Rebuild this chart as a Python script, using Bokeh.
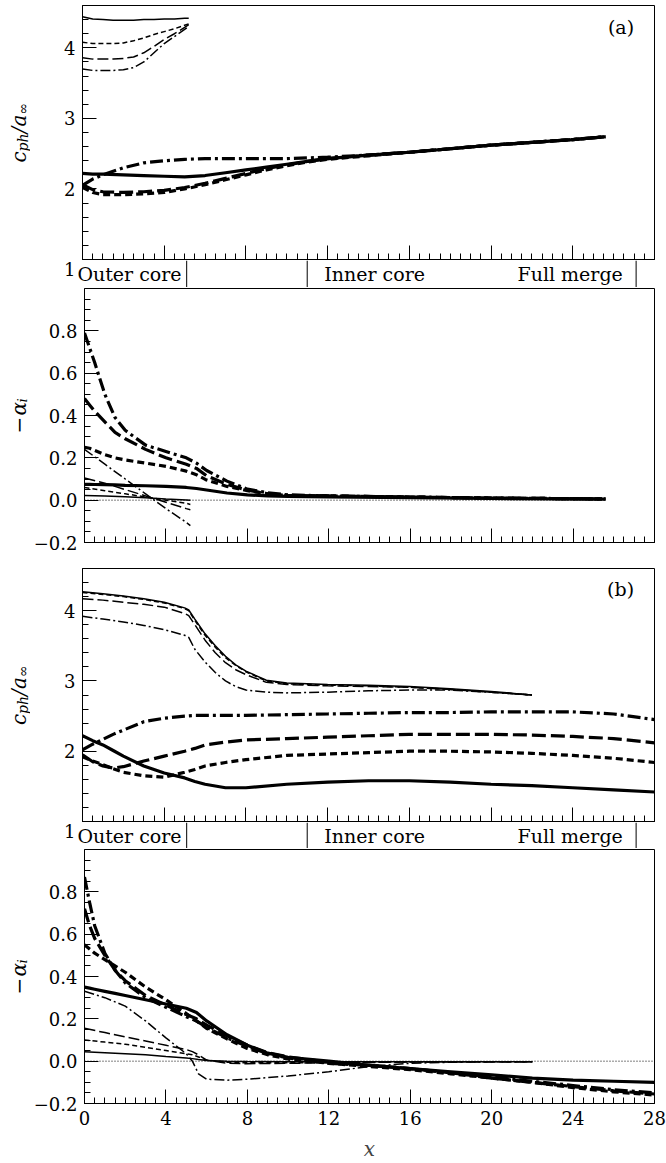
from math import pi

from bokeh.embed import file_html
from bokeh.layouts import column, row
from bokeh.models import CustomJSTickFormatter, FixedTicker, Label, Range1d
from bokeh.plotting import figure
from bokeh.resources import INLINE

SERIF = "DejaVu Serif"

# ---------------------------------------------------------------- data
# (a) phase speed, thin curves (outer-core mode, x <= 5.2)
a_cph_thin_x = [0, 0.5, 1, 1.5, 2, 2.5, 3, 3.5, 4, 4.5, 5, 5.2]
a_cph_thin_solid = [4.44, 4.41, 4.40, 4.39, 4.39, 4.39, 4.40, 4.40, 4.41, 4.41, 4.42, 4.42]
a_cph_thin_sdash = [4.08, 4.06, 4.06, 4.06, 4.07, 4.10, 4.14, 4.19, 4.23, 4.27, 4.32, 4.34]
a_cph_thin_ldash = [3.86, 3.84, 3.84, 3.84, 3.85, 3.87, 3.93, 4.02, 4.12, 4.20, 4.29, 4.33]
a_cph_thin_dashdot = [3.70, 3.68, 3.68, 3.68, 3.69, 3.72, 3.80, 3.93, 4.06, 4.16, 4.26, 4.30]

# (a) phase speed, thick curves
a_cph_thick_x = [0, 0.5, 1, 2, 3, 4, 5, 6, 7, 8, 9, 10, 11, 12, 14, 16, 18, 20, 22, 24, 25.6]
a_cph_thick_solid = [2.22, 2.21, 2.21, 2.20, 2.19, 2.18, 2.17, 2.19, 2.23, 2.27, 2.31, 2.35, 2.39,
                     2.43, 2.48, 2.52, 2.57, 2.62, 2.66, 2.70, 2.74]
a_cph_thick_dashdot = [2.05, 2.14, 2.20, 2.30, 2.37, 2.40, 2.42, 2.43, 2.43, 2.43, 2.43, 2.43, 2.44,
                       2.45, 2.48, 2.52, 2.57, 2.62, 2.66, 2.70, 2.74]
a_cph_thick_sdash = [2.02, 1.95, 1.92, 1.92, 1.93, 1.95, 2.00, 2.06, 2.13, 2.20, 2.27, 2.33, 2.38,
                     2.42, 2.47, 2.52, 2.57, 2.62, 2.66, 2.70, 2.74]
a_cph_thick_ldash = [2.06, 1.99, 1.96, 1.95, 1.96, 1.98, 2.02, 2.08, 2.15, 2.22, 2.29, 2.34, 2.39,
                     2.43, 2.48, 2.52, 2.57, 2.62, 2.66, 2.70, 2.74]

# (a) growth rate, thick curves
a_alpha_thick_x = [0, 0.25, 0.5, 1, 1.5, 2, 3, 4, 5, 5.5, 6, 7, 8, 9, 10, 12, 16, 20, 25.6]
a_alpha_thick_dashdot = [0.79, 0.72, 0.65, 0.50, 0.39, 0.33, 0.26, 0.23, 0.20, 0.175, 0.14, 0.09,
                         0.052, 0.035, 0.025, 0.02, 0.015, 0.01, 0.006]
a_alpha_thick_ldash = [0.48, 0.45, 0.42, 0.37, 0.32, 0.29, 0.24, 0.20, 0.17, 0.15, 0.115, 0.075,
                       0.047, 0.03, 0.022, 0.02, 0.015, 0.01, 0.006]
a_alpha_thick_sdash = [0.25, 0.245, 0.235, 0.215, 0.20, 0.19, 0.175, 0.16, 0.137, 0.12, 0.095, 0.065,
                       0.045, 0.03, 0.022, 0.02, 0.015, 0.01, 0.006]
a_alpha_thick_solid = [0.075, 0.075, 0.074, 0.073, 0.072, 0.07, 0.068, 0.065, 0.06, 0.055, 0.048,
                       0.034, 0.025, 0.02, 0.018, 0.016, 0.012, 0.008, 0.005]

# (a) growth rate, thin curves
a_alpha_thin_x = [0, 1, 2, 3, 4, 5, 5.2]
a_alpha_thin_dashdot = [0.24, 0.17, 0.10, 0.03, -0.04, -0.105, -0.12]
a_alpha_thin_ldash = [0.105, 0.08, 0.05, 0.02, -0.01, -0.04, -0.045]
a_alpha_thin_sdash = [0.06, 0.045, 0.03, 0.015, 0.0, -0.015, -0.02]
a_alpha_thin_solid = [0.022, 0.02, 0.016, 0.012, 0.006, 0.001, 0.0]
a_zero_x = [0, 25.6]

# (b) phase speed, thin curves
b_cph_thin_x = [0, 1, 2, 3, 4, 5, 5.2, 5.5, 6, 6.5, 7, 7.5, 8, 9, 10, 12, 14, 16, 18, 20, 22]
b_cph_thin_solid = [4.27, 4.24, 4.21, 4.17, 4.12, 4.04, 4.01, 3.88, 3.67, 3.50, 3.35, 3.23, 3.14,
                    3.01, 2.97, 2.95, 2.94, 2.92, 2.89, 2.85, 2.80]
b_cph_thin_sdash = [4.26, 4.23, 4.20, 4.16, 4.11, 4.03, 4.00, 3.86, 3.65, 3.48, 3.33, 3.22, 3.13,
                    3.00, 2.96, 2.94, 2.93, 2.91, 2.88, 2.84, 2.80]
b_cph_thin_ldash = [4.17, 4.15, 4.12, 4.09, 4.05, 3.96, 3.93, 3.80, 3.58, 3.40, 3.26, 3.16, 3.09,
                    2.98, 2.95, 2.93, 2.92, 2.91, 2.88, 2.84, 2.80]
b_cph_thin_dashdot = [3.92, 3.88, 3.84, 3.79, 3.73, 3.65, 3.62, 3.45, 3.27, 3.12, 3.00, 2.92, 2.87,
                      2.84, 2.83, 2.84, 2.86, 2.87, 2.87, 2.84, 2.80]

# (b) phase speed, thick curves
b_cph_thick_x = [0, 0.5, 1, 1.5, 2, 3, 4, 5, 5.5, 6, 7, 8, 10, 12, 14, 16, 18, 20, 22, 24, 26, 28]
b_cph_thick_solid = [2.22, 2.15, 2.09, 2.01, 1.93, 1.79, 1.69, 1.62, 1.57, 1.53, 1.48, 1.48, 1.53,
                     1.56, 1.58, 1.58, 1.56, 1.53, 1.51, 1.48, 1.45, 1.42]
b_cph_thick_dashdot = [2.02, 2.10, 2.17, 2.24, 2.30, 2.42, 2.47, 2.50, 2.51, 2.51, 2.51, 2.51, 2.52,
                       2.53, 2.54, 2.55, 2.55, 2.56, 2.56, 2.56, 2.53, 2.45]
b_cph_thick_ldash = [1.95, 1.85, 1.79, 1.76, 1.78, 1.86, 1.93, 2.00, 2.04, 2.09, 2.13, 2.16, 2.18,
                     2.20, 2.22, 2.24, 2.24, 2.24, 2.23, 2.21, 2.18, 2.12]
b_cph_thick_sdash = [1.92, 1.86, 1.81, 1.75, 1.70, 1.65, 1.63, 1.70, 1.74, 1.79, 1.84, 1.88, 1.94,
                     1.96, 1.98, 2.00, 2.00, 1.99, 1.97, 1.94, 1.90, 1.84]

# (b) growth rate, thick curves
b_alpha_thick_x = [0, 0.25, 0.5, 1, 1.5, 2, 3, 4, 5, 5.5, 6, 7, 8, 9, 10, 12, 14, 16, 18, 20,
                   22, 24, 26, 28]
b_alpha_thick_solid = [0.35, 0.345, 0.34, 0.33, 0.32, 0.31, 0.29, 0.27, 0.25, 0.23, 0.19, 0.125,
                       0.075, 0.038, 0.018, 0.0, -0.02, -0.035, -0.05, -0.065, -0.08, -0.09,
                       -0.095, -0.10]
b_alpha_thick_dashdot = [0.87, 0.75, 0.64, 0.51, 0.43, 0.37, 0.30, 0.255, 0.21, 0.19, 0.16, 0.11,
                         0.07, 0.035, 0.015, -0.01, -0.02, -0.035, -0.055, -0.075, -0.095, -0.115,
                         -0.135, -0.15]
b_alpha_thick_ldash = [0.72, 0.64, 0.58, 0.50, 0.43, 0.38, 0.31, 0.265, 0.22, 0.20, 0.17, 0.12,
                       0.075, 0.04, 0.02, -0.005, -0.02, -0.035, -0.055, -0.08, -0.10, -0.12,
                       -0.14, -0.155]
b_alpha_thick_sdash = [0.55, 0.53, 0.51, 0.48, 0.45, 0.42, 0.35, 0.29, 0.225, 0.19, 0.155, 0.105,
                       0.06, 0.03, 0.01, -0.01, -0.025, -0.04, -0.06, -0.08, -0.10, -0.125,
                       -0.145, -0.16]

# (b) growth rate, thin curves
b_alpha_thin_x = [0, 1, 2, 3, 4, 5, 5.3, 5.6, 6, 7, 8, 10, 12, 14, 16, 18, 20, 22]
b_alpha_thin_dashdot = [0.33, 0.30, 0.26, 0.19, 0.11, 0.035, 0.0, -0.06, -0.085, -0.09, -0.085,
                        -0.07, -0.05, -0.025, -0.01, -0.005, -0.003, -0.003]
b_alpha_thin_ldash = [0.155, 0.135, 0.115, 0.095, 0.075, 0.055, 0.045, 0.03, 0.005, -0.01, -0.012,
                      -0.01, -0.008, -0.006, -0.004, -0.003, -0.003, -0.003]
b_alpha_thin_sdash = [0.10, 0.09, 0.08, 0.065, 0.05, 0.035, 0.03, 0.02, 0.005, -0.005, -0.008,
                      -0.008, -0.006, -0.005, -0.004, -0.003, -0.003, -0.003]
b_alpha_thin_solid = [0.045, 0.04, 0.035, 0.03, 0.022, 0.015, 0.012, 0.008, 0.003, 0.0, -0.002,
                      -0.003, -0.003, -0.003, -0.003, -0.003, -0.003, -0.003]
b_zero_x = [0, 28]

# regime strip: boundaries along x and their names
region_edges = [5.1, 11.0, 27.1]
region_names = ["Outer core", "Inner core", "Full merge"]

x_major = [0, 4, 8, 12, 16, 20, 24, 28]
x_minor = [i * 0.5 for i in range(57)]
cph_major = [1, 2, 3, 4]
cph_minor = [1 + i * 0.2 for i in range(19)]
alpha_major = [-0.2, 0.0, 0.2, 0.4, 0.6, 0.8]
alpha_minor = [-0.2 + i * 0.05 for i in range(25)]

# ---------------------------------------------------------------- styles
DASH = {
    ("solid", True): "solid", ("sdash", True): "7 4", ("ldash", True): "14 5",
    ("dashdot", True): "13 4 3 4",
    ("solid", False): "solid", ("sdash", False): "5 3", ("ldash", False): "11 4",
    ("dashdot", False): "10 3 2 3",
}

TICK_FONT = "18px"
TITLE_W = 30          # width of the column holding the rotated y titles
LEFT, RIGHT = 52, 12  # borders of the plotting panels
X_PER_PX = 28 / (666 - TITLE_W - LEFT - RIGHT)

# the lowest c_ph label ("1") is drawn in the strip below, so it is not cut in two
FMT_CPH = CustomJSTickFormatter(code="return Math.abs(tick - 1) < 1e-9 ? '' : tick.toFixed(0);")
FMT_INT = CustomJSTickFormatter(code="return tick.toFixed(0);")
FMT_DEC = CustomJSTickFormatter(
    code="return (tick < -1e-9 ? '\u2212' : '') + Math.abs(tick).toFixed(1);")


def curve(p, x, y, kind, thick):
    p.line(x, y, line_color="black", line_width=3.2 if thick else 1.5,
           line_dash=DASH[(kind, thick)])


def blank(width, height, xr, yr, top=0, bottom=0, left=0, right=0):
    f = figure(width=width, height=height, x_range=Range1d(*xr), y_range=Range1d(*yr),
               output_backend="svg", toolbar_location=None,
               min_border_left=left, min_border_right=right,
               min_border_top=top, min_border_bottom=bottom)
    f.xaxis.visible = False
    f.yaxis.visible = False
    f.grid.visible = False
    f.outline_line_color = None
    f.background_fill_color = "white"
    f.border_fill_color = "white"
    return f


def panel(height, top, bottom, yr, ymaj, ymin, yfmt, show_x):
    p = figure(width=666 - TITLE_W, height=height, x_range=Range1d(0, 28), y_range=Range1d(*yr),
               output_backend="svg", toolbar_location=None,
               min_border_left=LEFT, min_border_right=RIGHT,
               min_border_top=top, min_border_bottom=bottom)
    p.grid.visible = False
    p.outline_line_color = "black"
    p.outline_line_width = 1
    p.outline_line_alpha = 1
    p.background_fill_color = "white"
    p.border_fill_color = "white"
    for ax in (p.xaxis[0], p.yaxis[0]):
        ax.axis_line_color = "black"
        ax.major_tick_line_color = "black"
        ax.minor_tick_line_color = "black"
        ax.major_tick_in = 14
        ax.major_tick_out = 0
        ax.minor_tick_in = 6
        ax.minor_tick_out = 0
        ax.major_label_text_font = SERIF
        ax.major_label_text_font_size = TICK_FONT
        ax.major_label_text_color = "black"
    p.xaxis.ticker = FixedTicker(ticks=x_major, minor_ticks=x_minor)
    p.yaxis.ticker = FixedTicker(ticks=ymaj, minor_ticks=ymin)
    p.yaxis.formatter = yfmt
    p.yaxis.major_label_standoff = 7
    if show_x:
        p.xaxis.formatter = FMT_INT
        p.xaxis.major_label_standoff = 7
        p.xaxis.axis_label = "x"
        p.xaxis.axis_label_text_font = SERIF
        p.xaxis.axis_label_text_font_style = "italic"
        p.xaxis.axis_label_text_font_size = "20px"
        p.xaxis.axis_label_standoff = 9
    else:
        p.xaxis.formatter = CustomJSTickFormatter(code="return '';")
        p.xaxis.major_label_text_font_size = "0px"
        p.xaxis.major_label_standoff = 0
    # rotated y title, assembled from pieces so the subscripts sit lower
    side = blank(TITLE_W, height, (0, TITLE_W), yr, top=top, bottom=bottom)
    return side, p


def rot_title(side, y, pieces):
    # pieces: (text, size, style, advance_px, baseline_shift_px), stacked upward
    total = sum(pc[3] for pc in pieces)
    pos = -total / 2
    for text, size, style, adv, shift in pieces:
        side.add_layout(Label(x=18 + shift, y=y, y_offset=pos, text=text,
                              angle=pi / 2, text_font=SERIF, text_font_size=f"{size}px",
                              text_font_style=style, text_align="left",
                              text_baseline="alphabetic", text_color="black"))
        pos += adv


CPH_TITLE = [("c", 20, "italic", 11, 0), ("ph", 14, "italic", 18, 4),
             ("/", 20, "italic", 7, 0), ("a", 20, "italic", 12, 0),
             ("\u221e", 14, "normal", 12, 4)]
ALPHA_TITLE = [("\u2212", 20, "normal", 18, 0), ("\u03b1", 20, "italic", 13, 0),
               ("i", 13, "italic", 5, 4)]


def tag(p, y, text):
    p.add_layout(Label(x=27.0, y=y, text=text, text_font=SERIF, text_font_size="19px",
                       text_align="right", text_baseline="middle", text_color="black"))


def strip(height):
    # frame spans the whole row so the texts left of x = 0 stay inside it
    x0 = -(TITLE_W + LEFT) * X_PER_PX
    s = blank(666, height, (x0, 28), (0, 1), right=RIGHT)
    s.segment(x0=region_edges, y0=[0] * 3, x1=region_edges, y1=[1] * 3,
              line_color="black", line_width=1)
    s.add_layout(Label(x=-0.25, y=0.5, text=region_names[0], text_font=SERIF,
                       text_font_size="19px", text_align="left", text_baseline="middle",
                       text_color="black"))
    s.add_layout(Label(x=14.3, y=0.5, text=region_names[1], text_font=SERIF,
                       text_font_size="19px", text_align="center", text_baseline="middle",
                       text_color="black"))
    s.add_layout(Label(x=26.45, y=0.5, text=region_names[2], text_font=SERIF,
                       text_font_size="19px", text_align="right", text_baseline="middle",
                       text_color="black"))
    s.add_layout(Label(x=-0.35, y=0.5, y_offset=5, text="1", text_font=SERIF,
                       text_font_size=TICK_FONT, text_align="right", text_baseline="middle",
                       text_color="black"))
    return s


# ---------------------------------------------------------------- (a)
ta1, pa1 = panel(260, 5, 1, (1, 4.6), cph_major, cph_minor, FMT_CPH, False)
curve(pa1, a_cph_thin_x, a_cph_thin_solid, "solid", False)
curve(pa1, a_cph_thin_x, a_cph_thin_sdash, "sdash", False)
curve(pa1, a_cph_thin_x, a_cph_thin_ldash, "ldash", False)
curve(pa1, a_cph_thin_x, a_cph_thin_dashdot, "dashdot", False)
curve(pa1, a_cph_thick_x, a_cph_thick_solid, "solid", True)
curve(pa1, a_cph_thick_x, a_cph_thick_dashdot, "dashdot", True)
curve(pa1, a_cph_thick_x, a_cph_thick_sdash, "sdash", True)
curve(pa1, a_cph_thick_x, a_cph_thick_ldash, "ldash", True)
rot_title(ta1, 2.8, CPH_TITLE)
tag(pa1, 4.29, "(a)")

sa = strip(27)

ta2, pa2 = panel(280, 1, 25, (-0.2, 1.0), alpha_major, alpha_minor, FMT_DEC, False)
pa2.line(a_zero_x, [0, 0], line_color="black", line_width=1, line_dash="1 2")
curve(pa2, a_alpha_thin_x, a_alpha_thin_dashdot, "dashdot", False)
curve(pa2, a_alpha_thin_x, a_alpha_thin_ldash, "ldash", False)
curve(pa2, a_alpha_thin_x, a_alpha_thin_sdash, "sdash", False)
curve(pa2, a_alpha_thin_x, a_alpha_thin_solid, "solid", False)
curve(pa2, a_alpha_thick_x, a_alpha_thick_dashdot, "dashdot", True)
curve(pa2, a_alpha_thick_x, a_alpha_thick_ldash, "ldash", True)
curve(pa2, a_alpha_thick_x, a_alpha_thick_sdash, "sdash", True)
curve(pa2, a_alpha_thick_x, a_alpha_thick_solid, "solid", True)
rot_title(ta2, 0.4, ALPHA_TITLE)

# ---------------------------------------------------------------- (b)
tb1, pb1 = panel(255, 1, 1, (1, 4.6), cph_major, cph_minor, FMT_CPH, False)
curve(pb1, b_cph_thin_x, b_cph_thin_solid, "solid", False)
curve(pb1, b_cph_thin_x, b_cph_thin_sdash, "sdash", False)
curve(pb1, b_cph_thin_x, b_cph_thin_ldash, "ldash", False)
curve(pb1, b_cph_thin_x, b_cph_thin_dashdot, "dashdot", False)
curve(pb1, b_cph_thick_x, b_cph_thick_solid, "solid", True)
curve(pb1, b_cph_thick_x, b_cph_thick_dashdot, "dashdot", True)
curve(pb1, b_cph_thick_x, b_cph_thick_ldash, "ldash", True)
curve(pb1, b_cph_thick_x, b_cph_thick_sdash, "sdash", True)
rot_title(tb1, 2.8, CPH_TITLE)
tag(pb1, 4.31, "(b)")

sb = strip(26)

tb2, pb2 = panel(315, 1, 60, (-0.2, 1.0), alpha_major, alpha_minor, FMT_DEC, True)
pb2.line(b_zero_x, [0, 0], line_color="black", line_width=1, line_dash="1 2")
curve(pb2, b_alpha_thin_x, b_alpha_thin_dashdot, "dashdot", False)
curve(pb2, b_alpha_thin_x, b_alpha_thin_ldash, "ldash", False)
curve(pb2, b_alpha_thin_x, b_alpha_thin_sdash, "sdash", False)
curve(pb2, b_alpha_thin_x, b_alpha_thin_solid, "solid", False)
curve(pb2, b_alpha_thick_x, b_alpha_thick_solid, "solid", True)
curve(pb2, b_alpha_thick_x, b_alpha_thick_dashdot, "dashdot", True)
curve(pb2, b_alpha_thick_x, b_alpha_thick_ldash, "ldash", True)
curve(pb2, b_alpha_thick_x, b_alpha_thick_sdash, "sdash", True)
rot_title(tb2, 0.4, ALPHA_TITLE)

layout = column(row(ta1, pa1, spacing=0), sa, row(ta2, pa2, spacing=0),
                row(tb1, pb1, spacing=0), sb, row(tb2, pb2, spacing=0), spacing=0)
open("out.html", "w").write(file_html(layout, INLINE))
